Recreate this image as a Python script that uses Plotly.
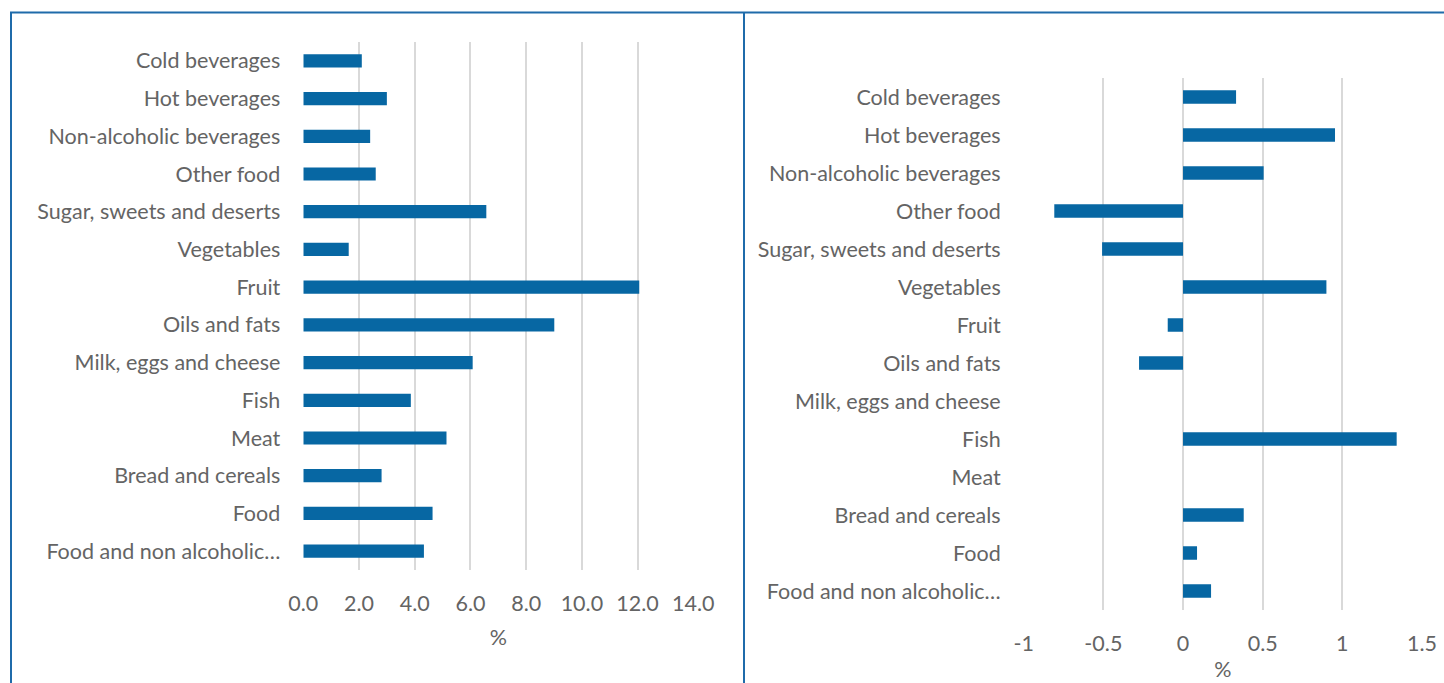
import plotly.graph_objects as go

# Categories listed top to bottom as shown on both panels
categories = [
    "Cold beverages",
    "Hot beverages",
    "Non-alcoholic beverages",
    "Other food",
    "Sugar, sweets and deserts",
    "Vegetables",
    "Fruit",
    "Oils and fats",
    "Milk, eggs and cheese",
    "Fish",
    "Meat",
    "Bread and cereals",
    "Food",
    "Food and non alcoholic…",
]

# Left panel values (%)
left_values = [2.1, 3.0, 2.4, 2.6, 6.57, 1.63, 12.06, 9.01, 6.08, 3.86, 5.14, 2.81, 4.64, 4.33]

# Right panel values (%)
right_values = [0.333, 0.954, 0.506, -0.808, -0.508, 0.90, -0.096, -0.276, 0.0, 1.341, 0.0, 0.381, 0.088, 0.176]

left_ticks = [0, 2, 4, 6, 8, 10, 12, 14]
left_ticktext = ["0.0", "2.0", "4.0", "6.0", "8.0", "10.0", "12.0", "14.0"]
right_ticks = [-1, -0.5, 0, 0.5, 1, 1.5]
right_ticktext = ["-1", "-0.5", "0", "0.5", "1", "1.5"]

W, H = 1444, 683
BAR = "#0767A3"
TEXT = "#646464"
GRID = "#D9D9D9"
FRAME = "#1F6BAA"
FONT = "Lato"
FS = 21.5


def px_x(x):
    return x / W


def px_y(y):
    return 1 - y / H


fig = go.Figure()

fig.add_trace(go.Bar(
    x=left_values, y=categories, orientation="h",
    marker=dict(color=BAR, line=dict(width=0)),
    xaxis="x", yaxis="y", showlegend=False,
))
fig.add_trace(go.Bar(
    x=right_values, y=categories, orientation="h",
    marker=dict(color=BAR, line=dict(width=0)),
    xaxis="x2", yaxis="y2", showlegend=False,
))

common_x = dict(
    showgrid=True, gridcolor=GRID, gridwidth=1.5,
    zeroline=False, showline=False, ticks="",
    tickfont=dict(family=FONT, size=FS, color=TEXT),
    ticklabelstandoff=18,
    automargin=False,
    fixedrange=True,
)
common_y = dict(
    autorange="reversed", showgrid=False, zeroline=False,
    showline=False, ticks="",
    tickfont=dict(family=FONT, size=FS, color=TEXT),
    ticklabelstandoff=22,
    automargin=False,
    fixedrange=True,
)

fig.update_layout(
    width=W, height=H,
    margin=dict(l=0, r=0, t=0, b=0, autoexpand=False),
    paper_bgcolor="white", plot_bgcolor="white",
    bargap=0.65,
    xaxis=dict(
        domain=[px_x(303.3), px_x(693.3)], range=[0, 14],
        tickvals=left_ticks, ticktext=left_ticktext,
        anchor="y",
        title=dict(text="%", font=dict(family=FONT, size=FS, color=TEXT), standoff=15),
        **common_x,
    ),
    yaxis=dict(
        domain=[px_y(570), px_y(42)], anchor="x",
        **common_y,
    ),
    xaxis2=dict(
        domain=[px_x(1023.7), px_x(1422)], range=[-1, 1.5],
        tickvals=right_ticks, ticktext=right_ticktext,
        anchor="y2",
        title=dict(text="%", font=dict(family=FONT, size=FS, color=TEXT), standoff=7),
        **common_x,
    ),
    yaxis2=dict(
        domain=[px_y(610), px_y(78)], anchor="x2",
        **common_y,
    ),
    shapes=[
        # outer frame: left edge, top edge, and the divider between panels
        dict(type="line", xref="paper", yref="paper",
             x0=px_x(11), x1=px_x(11), y0=0, y1=px_y(12),
             line=dict(color=FRAME, width=2)),
        dict(type="line", xref="paper", yref="paper",
             x0=px_x(10), x1=1, y0=px_y(12.5), y1=px_y(12.5),
             line=dict(color=FRAME, width=2)),
        dict(type="line", xref="paper", yref="paper",
             x0=px_x(744), x1=px_x(744), y0=0, y1=px_y(12),
             line=dict(color=FRAME, width=2)),
    ],
)

fig.write_html("out.html")
